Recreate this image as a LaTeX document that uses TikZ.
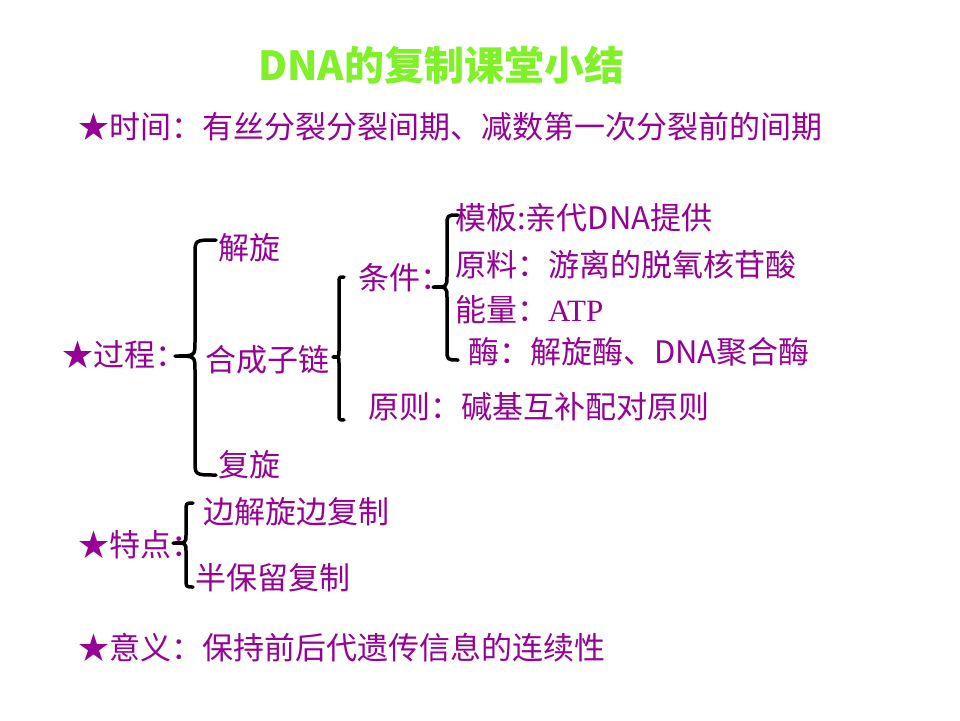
\documentclass[tikz,border=0pt]{standalone}
\usepackage{fontspec}
\setmainfont{Noto Sans CJK SC}
\newfontfamily\latserif{Liberation Serif}
\definecolor{txt}{RGB}{150,0,150}
\definecolor{ttl}{RGB}{128,240,40}
% #1 hook x, #2 line x, #3 tip x, #4 top y, #5 mid y, #6 bottom y, #7 radius
\newcommand\mybrace[7]{%
  \draw[brc] (#1,#4) .. controls (#2,#4) .. (#2,#4+#7) -- (#2,#5-#7)
    .. controls (#2,#5) .. (#3,#5) .. controls (#2,#5) .. (#2,#5+#7)
    -- (#2,#6-#7) .. controls (#2,#6) .. (#1,#6);}
\begin{document}
\begin{tikzpicture}[x=1pt,y=-1pt,
  lbl/.style={anchor=west,inner sep=0pt,text=txt,font=\fontsize{31}{31}\selectfont},
  ttlstyle/.style={anchor=west,inner sep=0pt,text=ttl,font=\fontsize{40}{40}\selectfont\bfseries},
  brc/.style={draw=black,line width=3.5pt,line cap=round,line join=round}]
\useasboundingbox[fill=white] (0,0) rectangle (960,720);

\node[ttlstyle] (title) at (258,65) {DNA的复制课堂小结};
\node[lbl] (time) at (78,127) {★时间：有丝分裂分裂间期、减数第一次分裂前的间期};

\node[lbl] (proc) at (62,355) {★过程：};
\node[lbl] (jx) at (218,248) {解旋};
\node[lbl] (hc) at (205,360) {合成子链};
\node[lbl] (fx) at (218,465) {复旋};

\node[lbl] (tj) at (358,278) {条件：};
\node[lbl] (mb) at (455,218) {模板:亲代DNA提供};
\node[lbl] (yl) at (455,265) {原料：游离的脱氧核苷酸};
\node[lbl] (nl) at (455,310) {能量：\latserif ATP};
\node[lbl] (mei) at (468,352) {酶：解旋酶、DNA聚合酶};
\node[lbl] (yz) at (368,407) {原则：碱基互补配对原则};

\node[lbl] (td) at (78,545) {★特点：};
\node[lbl] (t1) at (203,512) {边解旋边复制};
\node[lbl] (t2) at (195,578) {半保留复制};

\node[lbl] (yy) at (78,648) {★意义：保持前后代遗传信息的连续性};

\mybrace{216}{195}{175}{240}{356}{475}{14}
\mybrace{344}{339}{333}{277}{357}{420}{6}
\mybrace{458}{447}{433}{215}{287}{360}{11}
\mybrace{193}{186}{173}{503}{543}{587}{8}
\end{tikzpicture}
\end{document}
